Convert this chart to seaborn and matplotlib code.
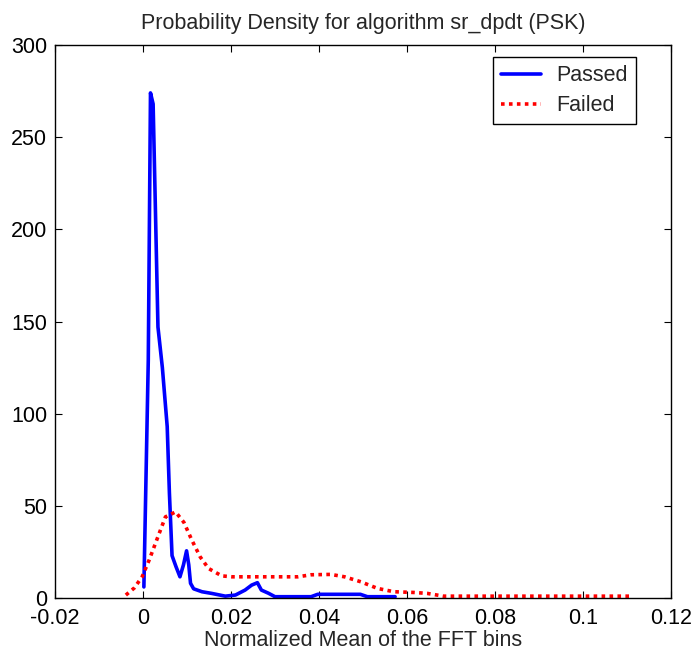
import matplotlib
matplotlib.use("Agg")
import matplotlib.pyplot as plt
import seaborn as sns
import pandas as pd

# Data
passed_x = [0.0002, 0.0012, 0.0017, 0.0023, 0.0034, 0.0044, 0.0055, 0.0060, 0.0066,
            0.0075, 0.0084, 0.0092, 0.0099, 0.0104, 0.0108, 0.0115, 0.0134, 0.0156,
            0.0187, 0.0210, 0.0232, 0.0247, 0.0260, 0.0269, 0.0285, 0.0300, 0.0382,
            0.0397, 0.0494, 0.0510, 0.0573]
passed_y = [6, 129, 274, 268, 147, 125, 93, 57, 23,
            17, 11.5, 18, 25.6, 18, 8, 5, 3.4, 2.5,
            1, 1.6, 4.3, 7, 8.3, 4.3, 2.6, 0.7, 0.7,
            2, 2, 0.7, 0.7]

failed_x = [-0.0039, -0.0020, -0.0002, 0.0014, 0.0032, 0.0051, 0.0074, 0.0093, 0.0111,
            0.0130, 0.0149, 0.0179, 0.0202, 0.0352, 0.0382, 0.0427, 0.0458, 0.0495,
            0.0533, 0.0570, 0.0616, 0.0646, 0.0683, 0.1112]
failed_y = [1.6, 5.4, 11.5, 20.6, 32, 44, 46.7, 41, 31.4,
            22.3, 16, 12, 11.5, 11.5, 12.6, 12.8, 11.5, 8.8,
            5.2, 3.4, 3, 2.5, 1, 1]

x_ticks = [-0.02, 0, 0.02, 0.04, 0.06, 0.08, 0.1, 0.12]
x_tick_labels = ["-0.02", "0", "0.02", "0.04", "0.06", "0.08", "0.1", "0.12"]
y_ticks = [0, 50, 100, 150, 200, 250, 300]
y_tick_labels = ["0", "50", "100", "150", "200", "250", "300"]

title = "Probability Density for algorithm sr_dpdt (PSK)"
xlabel = "Normalized Mean of the FFT bins"

sns.set_theme(style="white")
plt.rcParams["font.family"] = ["Liberation Sans", "DejaVu Sans"]

passed_df = pd.DataFrame({"x": passed_x, "y": passed_y})
failed_df = pd.DataFrame({"x": failed_x, "y": failed_y})

fig = plt.figure(figsize=(6.91, 6.5), dpi=100)
ax = fig.add_axes([55 / 691, (650 - 598) / 650, (671 - 55) / 691, (598 - 45) / 650])

LW = 2.6
sns.lineplot(data=passed_df, x="x", y="y", ax=ax, color="#0000ff", linewidth=LW,
             label="Passed", sort=False, estimator=None)
sns.lineplot(data=failed_df, x="x", y="y", ax=ax, color="#ff0000", linewidth=LW,
             label="Failed", sort=False, estimator=None)
ax.lines[1].set_dashes((1.0, 1.2))
ax.lines[1].set_dash_capstyle("butt")

ax.set_xlim(-0.02, 0.12)
ax.set_ylim(0, 300)
ax.set_xticks(x_ticks)
ax.set_xticklabels(x_tick_labels)
ax.set_yticks(y_ticks)
ax.set_yticklabels(y_tick_labels)
ax.tick_params(direction="in", length=5, width=0.8, colors="black", labelsize=15.5,
               top=True, right=True, bottom=True, left=True)
ax.tick_params(axis="x", pad=7.5)
ax.tick_params(axis="y", pad=5.5)
for s in ax.spines.values():
    s.set_color("black")
    s.set_linewidth(1.0)

ax.set_title(title, fontsize=15.5, pad=11.5)
ax.set_xlabel(xlabel, fontsize=15.5, labelpad=0.5)
ax.set_ylabel("")

leg = ax.legend(loc="upper left", bbox_to_anchor=((493 - 55) / 616, (598 - 57) / 553),
                fontsize=15.5, frameon=True, fancybox=False, shadow=False,
                handlelength=1.85, handletextpad=0.7, labelspacing=0.42,
                borderpad=0.38, borderaxespad=0.0)
leg.get_frame().set_edgecolor("black")
leg.get_frame().set_linewidth(1.0)
leg.get_frame().set_alpha(1)

fig.savefig("out.png", dpi=100)
